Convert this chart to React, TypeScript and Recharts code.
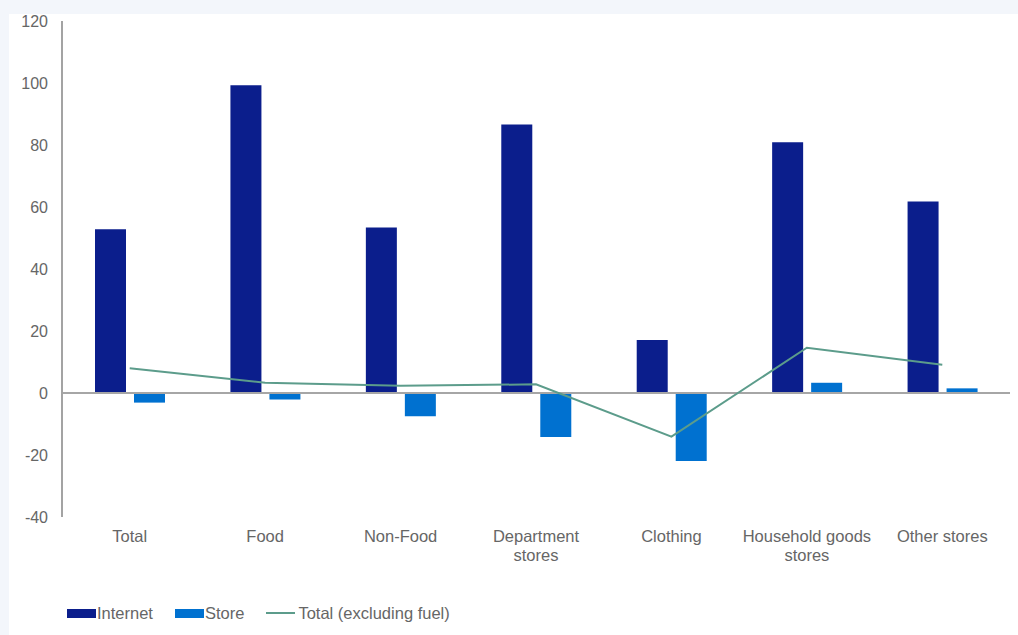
import React from 'react';
import { ComposedChart, Bar, Line, XAxis, YAxis, ReferenceLine, Text } from 'recharts';

const categories = ['Total', 'Food', 'Non-Food', 'Department stores', 'Clothing', 'Household goods stores', 'Other stores'];
const internetValues = [52.8, 99.3, 53.4, 86.6, 17.1, 80.9, 61.8];
const storeValues = [-3.1, -2.1, -7.5, -14.2, -21.9, 3.3, 1.5];
const totalValues = [8.0, 3.3, 2.3, 2.8, -14.1, 14.6, 9.1];
const yTicks = [-40, -20, 0, 20, 40, 60, 80, 100, 120];

const seriesNames = { internet: 'Internet', store: 'Store', total: 'Total (excluding fuel)' };
const colors = { internet: '#0b1e8c', store: '#0071d0', total: '#5c9c8b' };

const data = categories.map((name, i) => ({
  name,
  internet: internetValues[i],
  store: storeValues[i],
  total: totalValues[i],
}));

const FONT = '"Liberation Sans", Arial, sans-serif';
const TEXT_COLOR = '#666666';

const XTick = (props: any) => {
  const { x, y, payload } = props;
  return (
    <Text
      x={x}
      y={y + 13}
      width={131}
      textAnchor="middle"
      verticalAnchor="start"
      lineHeight={19}
      style={{ fontFamily: FONT, fontSize: 16.5, fill: TEXT_COLOR }}
    >
      {payload.value}
    </Text>
  );
};

const legendItems = [
  { key: 'internet', type: 'bar' },
  { key: 'store', type: 'bar' },
  { key: 'total', type: 'line' },
];

export default function App() {
  return (
    <div style={{ position: 'absolute', left: 0, top: 0, width: 1018, height: 635, background: '#f3f6fb', overflow: 'hidden' }}>
      <div style={{ position: 'absolute', left: 9, top: 14, width: 1009, height: 621, background: '#ffffff' }} />
      <div style={{ position: 'absolute', left: 0, top: 0 }}>
        <ComposedChart
          width={1018}
          height={635}
          data={data}
          margin={{ top: 21, right: 8, left: 0, bottom: 68 }}
          barSize={31}
          barGap={8}
        >
          <XAxis
            dataKey="name"
            axisLine={false}
            tickLine={false}
            tickSize={0}
            tickMargin={0}
            interval={0}
            height={50}
            tick={<XTick />}
          />
          <YAxis
            domain={[-40, 120]}
            ticks={yTicks}
            width={62}
            axisLine={{ stroke: '#a3a3a3', strokeWidth: 2 }}
            tickLine={false}
            tickSize={0}
            tickMargin={14}
            interval={0}
            tick={{ fontFamily: FONT, fontSize: 16, fill: TEXT_COLOR }}
          />
          <Bar dataKey="internet" name={seriesNames.internet} fill={colors.internet} isAnimationActive={false} />
          <Bar dataKey="store" name={seriesNames.store} fill={colors.store} isAnimationActive={false} />
          <ReferenceLine y={0} stroke="#a6a6a6" strokeWidth={2} />
          <Line
            type="linear"
            dataKey="total"
            name={seriesNames.total}
            stroke={colors.total}
            strokeWidth={2}
            dot={false}
            activeDot={false}
            isAnimationActive={false}
          />
        </ComposedChart>
      </div>
      <div
        style={{
          position: 'absolute',
          left: 67,
          top: 602,
          display: 'flex',
          alignItems: 'center',
          fontFamily: FONT,
          fontSize: 16.5,
          color: TEXT_COLOR,
          lineHeight: '22px',
        }}
      >
        {legendItems.map((item) => (
          <div key={item.key} style={{ display: 'flex', alignItems: 'center', marginRight: 22 }}>
            {item.type === 'bar' ? (
              <div style={{ width: 29, height: 9, background: (colors as any)[item.key], marginRight: 1 }} />
            ) : (
              <div style={{ width: 29, height: 2, background: (colors as any)[item.key], marginRight: 3 }} />
            )}
            <span>{(seriesNames as any)[item.key]}</span>
          </div>
        ))}
      </div>
    </div>
  );
}
